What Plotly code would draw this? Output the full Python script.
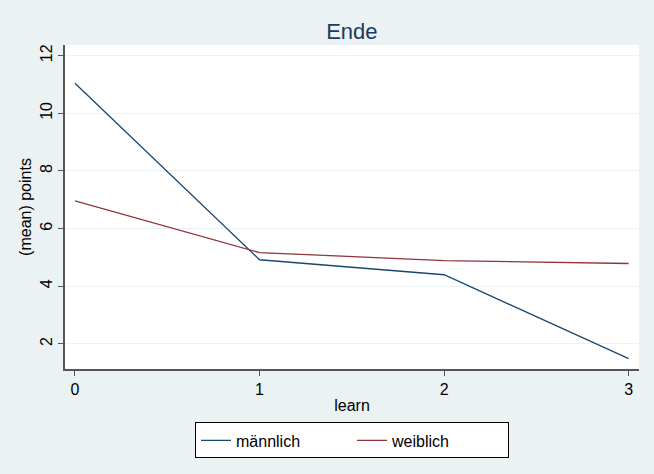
import plotly.graph_objects as go

learn = [0, 1, 2, 3]
maennlich = [11.04, 4.92, 4.40, 1.49]
weiblich = [6.96, 5.17, 4.89, 4.79]
y_ticks = [2, 4, 6, 8, 10, 12]
x_ticks = [0, 1, 2, 3]

fig = go.Figure()
fig.add_trace(go.Scatter(x=learn, y=maennlich, mode="lines", name="männlich",
                         line=dict(color="#1a476f", width=1.3)))
fig.add_trace(go.Scatter(x=learn, y=weiblich, mode="lines", name="weiblich",
                         line=dict(color="#90353b", width=1.3)))

font = "Liberation Sans, Arial, sans-serif"
fig.update_layout(
    width=654, height=474,
    margin=dict(l=65, r=15, t=45, b=105),
    paper_bgcolor="#eaf2f3",
    plot_bgcolor="white",
    font=dict(family=font, size=16, color="black"),
    title=dict(text="Ende", x=0.538, xanchor="center", y=0.933, yanchor="middle",
               font=dict(size=22, color="#1e3a5f")),
    showlegend=True,
    legend=dict(orientation="h", x=0.5, xanchor="center", y=-0.165, yanchor="top",
                bgcolor="white", bordercolor="black", borderwidth=1,
                font=dict(size=16), entrywidth=111, entrywidthmode="pixels",
                tracegroupgap=0),
)
fig.update_xaxes(range=[-0.054, 3.056], tickvals=x_ticks, showgrid=False,
                 zeroline=False, showline=True, linecolor="#555555", linewidth=1.5,
                 ticks="outside", ticklen=5, tickcolor="#555555",
                 tickfont=dict(size=16),
                 title=dict(text="learn", standoff=3, font=dict(size=16)))
fig.update_yaxes(range=[1.13, 12.37], tickvals=y_ticks, showgrid=True,
                 gridcolor="#eaf2f3", gridwidth=1, zeroline=False,
                 showline=True, linecolor="#555555", linewidth=1.5,
                 ticks="outside", ticklen=5, tickcolor="#555555", tickangle=-90,
                 tickfont=dict(size=16),
                 title=dict(text="(mean) points", standoff=2, font=dict(size=16)))

fig.write_html("out.html")
